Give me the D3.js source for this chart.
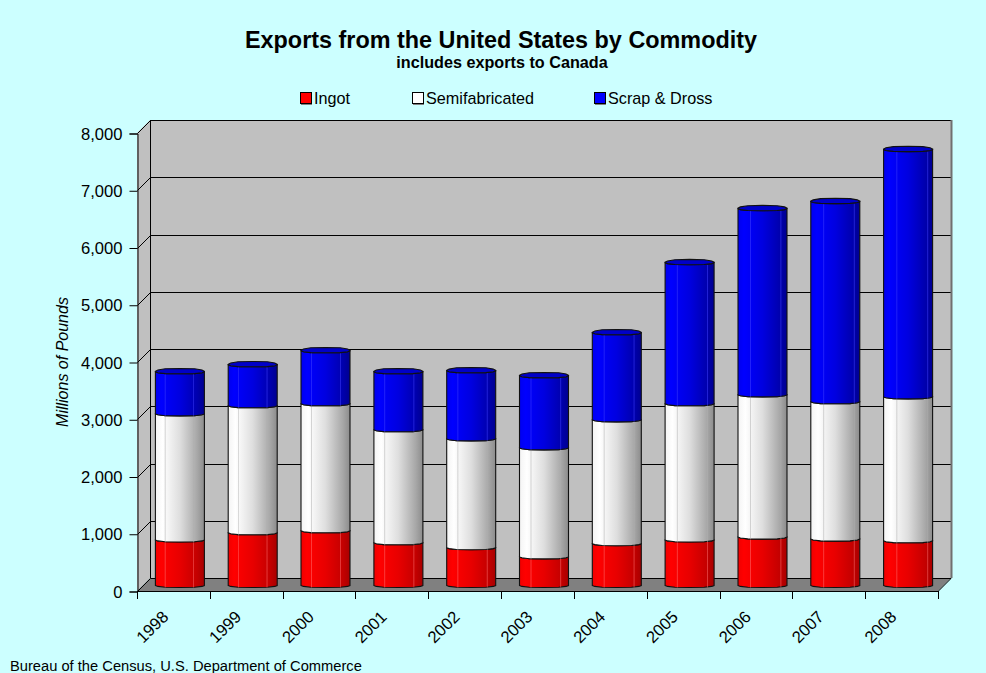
<!DOCTYPE html>
<html><head><meta charset="utf-8">
<script src="https://cdn.jsdelivr.net/npm/d3@7"></script>
<style>html,body{margin:0;padding:0;background:#ccffff}svg{display:block}text{font-family:"Liberation Sans",Arial,sans-serif;fill:#000}</style>
</head><body><script>
const years=["1998","1999","2000","2001","2002","2003","2004","2005","2006","2007","2008"];
const ingot=[795,920,955,745,660,500,730,795,845,810,780];
const semifabricated=[2203,2218,2218,1974,1901,1904,2163,2378,2485,2398,2515];
const scrapDross=[735,717,927,1014,1189,1259,1521,2465,3252,3497,4319];
const seriesNames=["Ingot","Semifabricated","Scrap & Dross"];
const yTicks=[0,1000,2000,3000,4000,5000,6000,7000,8000];
const W=986,H=673,depth=13;
const svg=d3.select("body").append("svg").attr("width",W).attr("height",H);
svg.append("rect").attr("width",W).attr("height",H).attr("fill","#ccffff");
const x=d3.scaleBand().domain(years).range([137,938]).paddingInner(.327).paddingOuter(.1635);
const xEdge=d3.scaleLinear().domain([0,years.length]).range([137,938]);
const y=d3.scaleLinear().domain([0,8000]).range([591,133]);
const x0=x.range()[0],x1=x.range()[1],y0=y(0),yT=y(8000);
// gradients
const defs=svg.append("defs");
const grads={
 red:[[0,"#f00000"],[.12,"#ff0000"],[.5,"#e80000"],[.85,"#c40000"],[1,"#a80000"]],
 white:[[0,"#f4f4f4"],[.15,"#ffffff"],[.5,"#dedede"],[.85,"#a8a8a8"],[1,"#8c8c8c"]],
 blue:[[0,"#0000ee"],[.12,"#0000ff"],[.5,"#0000e0"],[.85,"#0000ae"],[1,"#000090"]]};
Object.entries(grads).forEach(([k,st])=>{
 const g=defs.append("linearGradient").attr("id",k);
 st.forEach(s=>g.append("stop").attr("offset",s[0]).attr("stop-color",s[1]));
});
// walls
svg.append("path").attr("d",`M${x0},${y0}L${x0},${yT}L${x0+depth},${yT-depth}L${x0+depth},${y0-depth}Z`).attr("fill","#c0c0c0");
svg.append("rect").attr("x",x0+depth).attr("y",yT-depth).attr("width",x1-x0).attr("height",y0-yT).attr("fill","#c0c0c0");
svg.append("path").attr("d",`M${x0},${y0}L${x0+depth},${y0-depth}L${x1+depth},${y0-depth}L${x1},${y0}Z`).attr("fill","#808080");
// gridlines
const grid=svg.append("g").attr("fill","none").attr("stroke","#000");
yTicks.forEach(t=>{
 const py=Math.round(y(t))+.5;
 grid.append("path").attr("d",`M${x0+.5},${py}L${x0+depth+.5},${py-depth}L${x1+depth},${py-depth}`);
});
grid.append("path").attr("d",`M${x0+depth+.5},${y0-depth}V${yT-depth}`);
grid.append("path").attr("d",`M${x1+depth+.5},${yT-depth}V${y0-depth}`).attr("stroke","#707070").attr("stroke-width",2);
grid.append("path").attr("d",`M${x1},${y0+.5}L${x1+depth},${y0-depth+.5}`);
// axes
const yAxis=d3.axisLeft(y).tickValues(yTicks).tickFormat(d3.format(",")).tickSize(8).tickPadding(7);
const ga=svg.append("g").attr("transform",`translate(${x0+.5},.5)`).call(yAxis);
ga.selectAll("text").style("font-size","16.6px").attr("dy",".34em");
ga.selectAll("line,path").attr("stroke","#000");
const xAxis=d3.axisBottom(x).tickSize(0).tickPadding(0);
const gx=svg.append("g").attr("transform",`translate(0,${y0})`).call(xAxis);
gx.select("path").remove();
gx.selectAll("text").style("font-size","16.6px").attr("text-anchor","end").attr("dy",null).attr("y",0)
  .attr("transform","translate(-4,27) rotate(-45)");
svg.append("path").attr("d",`M${x0},${y0+.5}H${x1}`).attr("stroke","#000");
d3.range(years.length+1).forEach(i=>{
 const px=Math.round(xEdge(i))+.5;
 svg.append("path").attr("d",`M${px},${y0}V${y0+8}`).attr("stroke","#000");
});
// cylinders
const series=[["red",ingot],["white",semifabricated],["blue",scrapDross]];
const facets=[[0,0],[.05,.9],[.2,1.8],[.5,2],[.8,1.8],[.95,.9],[1,0]];
function curve(left,w,base,sign,rev){
 const pts=facets.map(f=>[left+w*f[0],base+sign*f[1]]);
 return (rev?pts.reverse():pts).map(p=>p[0].toFixed(1)+","+p[1].toFixed(1));
}
const bars=svg.append("g");
years.forEach((yr,i)=>{
 let acc=0;
 const left=x(yr)+depth/2,w=x.bandwidth();
 const segs=series.map(([col,vals])=>{const s={col,a:acc,b:acc+vals[i]};acc+=vals[i];return s;});
 segs.forEach(s=>{
  const bot=y(s.a)-depth/2+1,top=y(s.b)-depth/2+1;
  const d="M"+curve(left,w,bot,1,false).join("L")+"L"+curve(left,w,top,1,true).join("L")+"Z";
  bars.append("path").attr("d",d).attr("fill",`url(#${s.col})`).attr("stroke","#111").attr("stroke-width",1.1);
  const lc=s.col==="white"?"#b0b0b0":s.col==="red"?"#ff7070":"#4040ff";
  [.2+i*.007,.78+i*.012].forEach(fr=>{
   bars.append("path").attr("d",`M${left+w*fr},${top+2}V${bot+2}`).attr("stroke",lc).attr("stroke-width",.7).attr("opacity",.75);
  });
 });
 const last=segs[2],t=y(last.b)-depth/2+1;
 const cap="M"+curve(left,w,t,1,false).join("L")+"L"+curve(left,w,t-.5,-1.4,true).join("L")+"Z";
 bars.append("path").attr("d",cap).attr("fill","#0000c8").attr("stroke","#111").attr("stroke-width",1.1);
});
// titles
svg.append("text").attr("x",501).attr("y",48).attr("text-anchor","middle").style("font-size","23.4px").style("font-weight","700").text("Exports from the United States by Commodity");
svg.append("text").attr("x",502).attr("y",68).attr("text-anchor","middle").style("font-size","16.2px").style("font-weight","700").text("includes exports to Canada");
// legend
const legX=[300,412,594],legFill=["#ff0000","#ffffff","#0000ff"];
seriesNames.forEach((n,i)=>{
 svg.append("rect").attr("x",legX[i]+1).attr("y",94).attr("width",11).attr("height",11).attr("fill","#808080");
 svg.append("rect").attr("x",legX[i]+.5).attr("y",92.5).attr("width",11).attr("height",11).attr("fill",legFill[i]).attr("stroke","#000");
 svg.append("text").attr("x",legX[i]+14).attr("y",104).style("font-size","16.2px").text(n);
});
svg.append("text").attr("transform","translate(68,362) rotate(-90)").attr("text-anchor","middle").style("font-size","16px").style("font-style","italic").text("Millions of Pounds");
svg.append("text").attr("x",10).attr("y",671).style("font-size","14.7px").text("Bureau of the Census, U.S. Department of Commerce");
</script></body></html>
